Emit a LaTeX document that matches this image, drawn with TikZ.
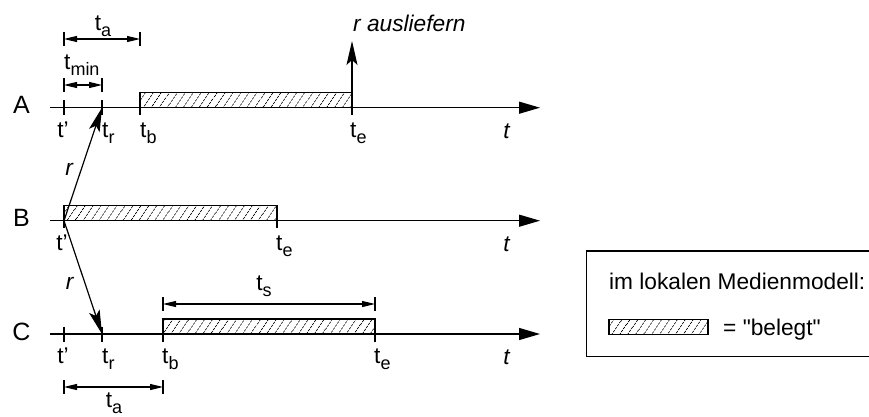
\documentclass[tikz,border=0pt]{standalone}
\usepackage{fontspec}
\setmainfont{Liberation Sans}[Ligatures=TeXOff]
\usetikzlibrary{arrows.meta,patterns.meta,positioning}

% t with a lowered index
\newcommand\tsb[1]{t\raisebox{-6pt}{\fontsize{18}{20}\selectfont #1}}

\tikzset{
  timeaxis/.style={line width=1.2pt,-{Triangle[length=21pt,width=12pt]}},
  tickmark/.style={line width=1.2pt},
  busybox/.style={draw,line width=1.2pt,pattern={Lines[angle=56,distance=6.5pt,line width=0.8pt]}},
  dimline/.style={line width=1.2pt,{Triangle[length=13pt,width=6pt]}-{Triangle[length=13pt,width=6pt]}},
  msgarrow/.style={line width=1.2pt,-{Stealth[length=24pt,width=11pt,inset=5pt]}},
  lbl/.style={anchor=base west}
}

\begin{document}
\begin{tikzpicture}[x=1pt,y=1pt,
  every node/.style={font=\fontsize{22.7}{27}\selectfont,inner sep=0pt}]

\useasboundingbox (0,0) rectangle (869,-417);
\clip (0,0) rectangle (869,-417);

% Time axes A, B, C
\foreach \row/\y in {A/-107.7,B/-220.7,C/-334} {
  \node[anchor=base,font=\fontsize{25}{30}\selectfont] (lab\row) at (21.5,\y-6) {\row};
  \draw[timeaxis] (50,\y) -- (540,\y);
  \node[anchor=base] (t\row) at (507,\y-30.5) {\textit{t}};
}

% Busy intervals
\draw[busybox] (140,-92.7) rectangle (352,-107.7);
\draw[busybox] (64,-205.7) rectangle (277,-220.7);
\draw[busybox] (163,-319) rectangle (375,-334);

% Ticks
\foreach \x in {64,102,140,352} \draw[tickmark] (\x,-100.2) -- (\x,-115.2);
\foreach \x in {64,277} \draw[tickmark] (\x,-213.2) -- (\x,-228.2);
\foreach \x in {64,102,163,375} \draw[tickmark] (\x,-326.5) -- (\x,-341.5);

% Row A labels
\node[anchor=base] (tpA) at (63,-137) {t’};
\node[lbl] (trA) at (102,-137) {\tsb{r}};
\node[lbl] (tbA) at (140,-137) {\tsb{b}};
\node[lbl] (teA) at (350,-137) {\tsb{e}};

% Row B labels
\node[anchor=base] (tpB) at (62,-250) {t’};
\node[lbl] (teB) at (276,-250) {\tsb{e}};

% Row C labels
\node[anchor=base] (tpC) at (63,-363) {t’};
\node[lbl] (trC) at (102,-363) {\tsb{r}};
\node[lbl] (tbC) at (162,-363) {\tsb{b}};
\node[lbl] (teC) at (374,-363) {\tsb{e}};

% Request r sent from B
\coordinate (srcB) at (64,-220.7);
\coordinate (dstA) at (102,-107.7);
\coordinate (dstC) at (102,-334);
\draw[msgarrow] (srcB) -- (dstA);
\draw[msgarrow] (srcB) -- (dstC);
\node[anchor=base] (rA) at (69.5,-175) {\textit{r}};
\node[anchor=base] (rC) at (70,-289) {\textit{r}};

% Delivery at t_e
\coordinate (delivA) at (352,-115.2);
\coordinate (delivTop) at (352,-41);
\draw[msgarrow] (delivA) -- (delivTop);
\node[lbl] (deliver) at (353,-32) {\textit{r ausliefern}};

% t_a and t_min on A
\draw[tickmark] (64,-32) -- (64,-46);
\draw[tickmark] (140,-32) -- (140,-46);
\draw[dimline] (64,-39) -- (140,-39);
\node[anchor=base] (taA) at (103,-31) {\tsb{a}};
\draw[tickmark] (64,-78) -- (64,-92);
\draw[tickmark] (102,-78) -- (102,-92);
\draw[dimline] (64,-85) -- (102,-85);
\node[lbl] (tminA) at (64,-70) {\tsb{min}};

% t_s and t_a on C
\draw[tickmark] (163,-297) -- (163,-311);
\draw[tickmark] (375,-297) -- (375,-311);
\draw[dimline] (163,-304) -- (375,-304);
\node[anchor=base] (tsC) at (264,-290) {\tsb{s}};
\draw[tickmark] (64,-380) -- (64,-394);
\draw[tickmark] (163,-380) -- (163,-394);
\draw[dimline] (64,-387) -- (163,-387);
\node[anchor=base] (taC) at (114,-407) {\tsb{a}};

% Legend
\draw[line width=1.2pt] (880,-251) -- (586.7,-251) -- (586.7,-356.7) -- (880,-356.7);
\node[lbl] (legtitle) at (609,-289) {im lokalen Medienmodell:};
\draw[busybox] (609,-319.5) rectangle (708,-334.5);
\node[lbl] (legbusy) at (723,-335) {= "belegt"};

\end{tikzpicture}
\end{document}
